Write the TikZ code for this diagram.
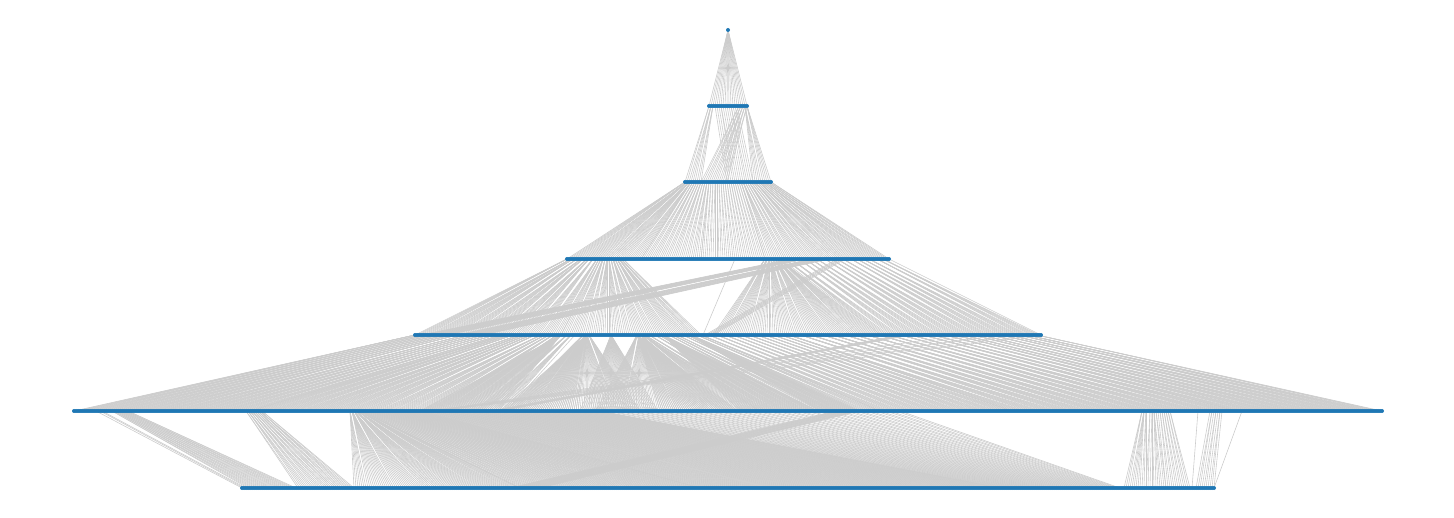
\documentclass[tikz,border=0pt]{standalone}
\definecolor{nodeblue}{HTML}{1F77B4}
\definecolor{edgegray}{HTML}{CCCCCC}
\pgfdeclarelayer{background}
\pgfsetlayers{background,main}
\tikzset{
  edge/.style={draw=edgegray,line width=0.6pt},
  dotnode/.style={circle,fill=nodeblue,inner sep=0pt,minimum size=4pt}
}
\def\layers{0/1/30,1/20/106,2/44/182,3/162/259,4/314/335,5/655/411,6/487/488}
% #1 parent layer, #2 child layer, #3-#4 parent x range (px), #5-#6 child x range (px), #7 children per parent group
\newcommand\edgeband[7]{%
  \edef\bnp{\csname nL#1\endcsname}%
  \edef\bnc{\csname nL#2\endcsname}%
  \pgfmathtruncatemacro\bpa{max(0,min(\bnp-1,round((#3-728)/2+(\bnp-1)/2)))}%
  \pgfmathtruncatemacro\bpb{max(0,min(\bnp-1,round((#4-728)/2+(\bnp-1)/2)))}%
  \pgfmathtruncatemacro\bca{max(0,min(\bnc-1,round((#5-728)/2+(\bnc-1)/2)))}%
  \pgfmathtruncatemacro\bcb{max(0,min(\bnc-1,round((#6-728)/2+(\bnc-1)/2)))}%
  \pgfmathtruncatemacro\bden{max(1,\bcb-\bca)}%
  \foreach \c in {\bca,...,\bcb} {%
    \pgfmathtruncatemacro\p{round(\bpa+floor((\c-\bca)/#7)*#7*(\bpb-\bpa)/\bden)}%
    \draw[edge] (d#1-\p) -- (d#2-\c);
  }%
}
\begin{document}
\begin{tikzpicture}[x=1pt,y=-1pt]
\useasboundingbox (0,0) rectangle (1454,518);
\foreach \l/\n/\y in \layers {
  \expandafter\xdef\csname nL\l\endcsname{\n}
  \pgfmathtruncatemacro\nm{\n-1}
  \foreach \i in {0,...,\nm} {
    \node[dotnode] (d\l-\i) at ({728+(\i-\nm/2)*2},\y) {};
  }
}
\begin{pgfonlayer}{background}
% layer 0 -> 1
\edgeband{0}{1}{729}{729}{708}{746}{1}
% layer 1 -> 2
\edgeband{1}{2}{708}{712}{683}{700}{1}
\edgeband{1}{2}{738}{746}{700}{726}{1}
\edgeband{1}{2}{714}{736}{726}{752}{1}
\edgeband{1}{2}{744}{746}{752}{770}{1}
% layer 2 -> 3
\edgeband{2}{3}{683}{690}{566}{640}{1}
\edgeband{2}{3}{690}{708}{640}{700}{1}
\edgeband{2}{3}{708}{740}{700}{765}{2}
\edgeband{2}{3}{740}{770}{765}{889}{3}
% layer 3 -> 4
\edgeband{3}{4}{566}{600}{415}{560}{7}
\edgeband{3}{4}{600}{622}{560}{700}{4}
\edgeband{3}{4}{735}{735}{703}{703}{1}
\edgeband{3}{4}{765}{780}{712}{880}{6}
\edgeband{3}{4}{790}{804}{420}{446}{1}
\edgeband{3}{4}{810}{828}{456}{482}{1}
\edgeband{3}{4}{836}{844}{705}{712}{1}
\edgeband{3}{4}{785}{889}{880}{1041}{5}
% layer 4 -> 5
\edgeband{4}{5}{415}{505}{73}{250}{6}
\edgeband{4}{5}{505}{575}{250}{505}{8}
\edgeband{4}{5}{583}{588}{505}{640}{1}
\edgeband{4}{5}{636}{642}{595}{760}{1}
\edgeband{4}{5}{560}{700}{420}{860}{40}
\edgeband{4}{5}{645}{700}{760}{880}{5}
\edgeband{4}{5}{700}{789}{880}{1012}{6}
\edgeband{4}{5}{789}{945}{1012}{1235}{8}
\edgeband{4}{5}{945}{1041}{1235}{1382}{7}
\edgeband{4}{5}{900}{910}{490}{500}{1}
\edgeband{4}{5}{960}{1040}{430}{438}{1}
% layer 5 -> 6
\edgeband{5}{6}{96}{102}{242}{245}{1}
\edgeband{5}{6}{112}{128}{247}{296}{1}
\edgeband{5}{6}{245}{262}{297}{354}{1}
\edgeband{5}{6}{350}{362}{354}{520}{1}
\edgeband{5}{6}{362}{420}{520}{700}{1}
\edgeband{5}{6}{420}{600}{700}{1000}{1}
\edgeband{5}{6}{600}{900}{1000}{1120}{1}
\edgeband{5}{6}{835}{860}{510}{540}{1}
\edgeband{5}{6}{1142}{1146}{1123}{1145}{1}
\edgeband{5}{6}{1150}{1156}{1145}{1165}{1}
\edgeband{5}{6}{1158}{1170}{1165}{1190}{1}
\edgeband{5}{6}{1197}{1197}{1192}{1192}{1}
\edgeband{5}{6}{1210}{1222}{1195}{1214}{1}
\edgeband{5}{6}{1241}{1241}{1214}{1214}{1}
\end{pgfonlayer}
\end{tikzpicture}
\end{document}
